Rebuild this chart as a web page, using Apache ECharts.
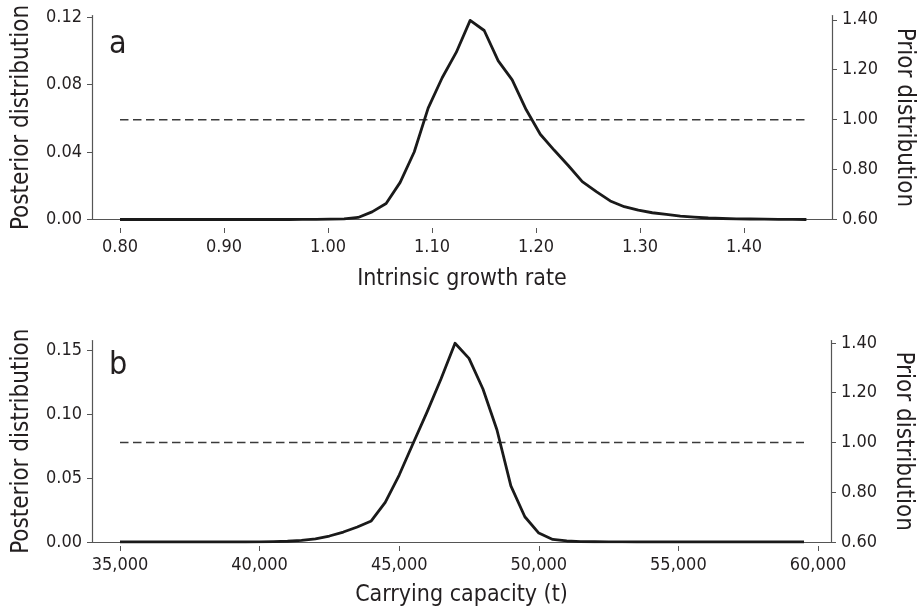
<!DOCTYPE html>
<html>
<head>
<meta charset="utf-8">
<script src="https://cdn.jsdelivr.net/npm/echarts@6/dist/echarts.min.js"></script>
<style>
  html, body { margin: 0; padding: 0; background: #ffffff; }
  #chart { width: 917px; height: 615px; }
</style>
</head>
<body>
<div id="chart"></div>
<script>
// ---- Panel a: intrinsic growth rate ----
const growthRate = [
  0.8000, 0.8135, 0.8269, 0.8404, 0.8539, 0.8673, 0.8808, 0.8943, 0.9078, 0.9212,
  0.9347, 0.9482, 0.9616, 0.9751, 0.9886, 1.0020, 1.0155, 1.0290, 1.0424, 1.0559,
  1.0694, 1.0829, 1.0963, 1.1098, 1.1233, 1.1367, 1.1502, 1.1637, 1.1771, 1.1906,
  1.2041, 1.2176, 1.2310, 1.2445, 1.2580, 1.2714, 1.2849, 1.2984, 1.3118, 1.3253,
  1.3388, 1.3522, 1.3657, 1.3792, 1.3927, 1.4061, 1.4196, 1.4331, 1.4465, 1.4600
];
const growthPosterior = [
  0, 0, 0, 0, 0, 0, 0, 0, 0, 0,
  0, 0, 0, 0.0001, 0.0001, 0.0002, 0.0004, 0.0012, 0.0045, 0.0095,
  0.0220, 0.0400, 0.0660, 0.0840, 0.0990, 0.1180, 0.1120, 0.0940, 0.0827, 0.0650,
  0.0505, 0.0410, 0.0320, 0.0224, 0.0165, 0.0110, 0.0076, 0.0055, 0.0040, 0.0030,
  0.0020, 0.0014, 0.0009, 0.0006, 0.0004, 0.0003, 0.0002, 0.0001, 0.0001, 0
];
const growthPrior = [1.00, 1.00];
const growthTicks = [0.80, 0.90, 1.00, 1.10, 1.20, 1.30, 1.40];
const growthPostTicks = [0, 0.04, 0.08, 0.12];

// ---- Panel b: carrying capacity ----
const capacity = [
  35000, 35500, 36000, 36500, 37000, 37500, 38000, 38500, 39000, 39500,
  40000, 40500, 41000, 41500, 42000, 42500, 43000, 43500, 44000, 44500,
  45000, 45500, 46000, 46500, 47000, 47500, 48000, 48500, 49000, 49500,
  50000, 50500, 51000, 51500, 52000, 52500, 53000, 53500, 54000, 54500,
  55000, 55500, 56000, 56500, 57000, 57500, 58000, 58500, 59000, 59500
];
const capacityPosterior = [
  0, 0, 0, 0, 0, 0, 0, 0, 0, 0,
  0.0001, 0.0003, 0.0006, 0.0012, 0.0024, 0.0047, 0.0078, 0.0118, 0.0165, 0.0310,
  0.0525, 0.0774, 0.1020, 0.1280, 0.1558, 0.1440, 0.1200, 0.0880, 0.0440, 0.0198,
  0.0070, 0.0020, 0.0008, 0.0003, 0.0002, 0.0001, 0.0001, 0, 0, 0,
  0, 0, 0, 0, 0, 0, 0, 0, 0, 0
];
const capacityPrior = [1.00, 1.00];
const capacityTicks = [35000, 40000, 45000, 50000, 55000, 60000];
const capacityPostTicks = [0, 0.05, 0.10, 0.15];

const priorTicks = [0.60, 0.80, 1.00, 1.20, 1.40];

const FONT = '"DejaVu Sans Condensed", "Liberation Sans Narrow", sans-serif';
const TEXT = '#231f20';
const AXIS = '#555555';

const pairs = (xs, ys) => xs.map((x, i) => [x, ys[i]]);

function xAxes(gi, min, max, ticks, fmt, name, offset, nameGap) {
  return [
    { // baseline of the panel
      type: 'value', gridIndex: gi, position: 'bottom', min, max,
      axisLine: { show: true, onZero: false, lineStyle: { color: AXIS, width: 1.2 } },
      axisTick: { show: false }, axisLabel: { show: false }, splitLine: { show: false }
    },
    { // detached tick row with labels and title
      type: 'value', gridIndex: gi, position: 'bottom', min, max, offset,
      axisLine: { show: false, onZero: false },
      axisTick: { show: true, length: 5, customValues: ticks, lineStyle: { color: AXIS, width: 1 } },
      axisLabel: { customValues: ticks, formatter: fmt, margin: 10, color: TEXT, fontSize: 18, fontFamily: FONT },
      splitLine: { show: false },
      name, nameLocation: 'middle', nameGap,
      nameTextStyle: { color: TEXT, fontSize: 23, fontFamily: FONT }
    }
  ];
}

function yAxes(gi, postMax, postTicks, priorMax) {
  return [
    {
      type: 'value', gridIndex: gi, position: 'left', min: 0, max: postMax,
      axisLine: { show: true, lineStyle: { color: AXIS, width: 1.2 } },
      axisTick: { show: true, length: 5, customValues: postTicks, lineStyle: { color: AXIS } },
      axisLabel: { customValues: postTicks, formatter: v => v.toFixed(2), margin: 10, color: TEXT, fontSize: 18, fontFamily: FONT },
      splitLine: { show: false },
      name: 'Posterior distribution', nameLocation: 'middle', nameGap: 58, nameRotate: 90,
      nameTextStyle: { color: TEXT, fontSize: 24, fontFamily: FONT }
    },
    {
      type: 'value', gridIndex: gi, position: 'right', min: 0.6, max: priorMax,
      axisLine: { show: true, lineStyle: { color: AXIS, width: 1.2 } },
      axisTick: { show: true, length: 5, customValues: priorTicks, lineStyle: { color: AXIS } },
      axisLabel: { customValues: priorTicks, formatter: v => v.toFixed(2), margin: 10, color: TEXT, fontSize: 18, fontFamily: FONT },
      splitLine: { show: false },
      name: 'Prior distribution', nameLocation: 'middle', nameGap: 60, nameRotate: -90,
      nameTextStyle: { color: TEXT, fontSize: 24, fontFamily: FONT }
    }
  ];
}

const posteriorStyle = { color: '#1a1a1a', width: 2.8, join: 'round' };
const priorStyle = { color: '#3a3a3a', width: 1.5, type: [8.5, 4.5] };

const chart = echarts.init(document.getElementById('chart'), null, { renderer: 'canvas' });
chart.setOption({
  animation: false,
  backgroundColor: '#ffffff',
  grid: [
    { left: 92, top: 15.5, width: 740, height: 204, outerBoundsMode: 'none', containLabel: false },
    { left: 92, top: 340.5, width: 739, height: 201.5, outerBoundsMode: 'none', containLabel: false }
  ],
  xAxis: [
    ...xAxes(0, 0.7731, 1.4846, growthTicks, v => v.toFixed(2), 'Intrinsic growth rate', 8.5, 40),
    ...xAxes(1, 33997, 60466, capacityTicks, v => v.toLocaleString('en-US'), 'Carrying capacity (t)', 4, 38)
  ],
  yAxis: [
    ...yAxes(0, 0.12089, growthPostTicks, 1.4173),
    ...yAxes(1, 0.158, capacityPostTicks, 1.41)
  ],
  graphic: [
    { type: 'text', x: 109, y: 45, style: { text: 'a', fontSize: 32, fontFamily: FONT, fill: TEXT, verticalAlign: 'middle' } },
    { type: 'text', x: 109, y: 366, style: { text: 'b', fontSize: 32, fontFamily: FONT, fill: TEXT, verticalAlign: 'middle' } }
  ],
  series: [
    { type: 'line', xAxisIndex: 0, yAxisIndex: 1, symbol: 'none', silent: true,
      data: [[growthRate[0], growthPrior[0]], [growthRate[growthRate.length - 1], growthPrior[1]]],
      lineStyle: priorStyle },
    { type: 'line', xAxisIndex: 0, yAxisIndex: 0, symbol: 'none', silent: true,
      data: pairs(growthRate, growthPosterior), lineStyle: posteriorStyle },
    { type: 'line', xAxisIndex: 2, yAxisIndex: 3, symbol: 'none', silent: true,
      data: [[capacity[0], capacityPrior[0]], [capacity[capacity.length - 1], capacityPrior[1]]],
      lineStyle: priorStyle },
    { type: 'line', xAxisIndex: 2, yAxisIndex: 2, symbol: 'none', silent: true,
      data: pairs(capacity, capacityPosterior), lineStyle: posteriorStyle }
  ]
});
</script>
</body>
</html>
